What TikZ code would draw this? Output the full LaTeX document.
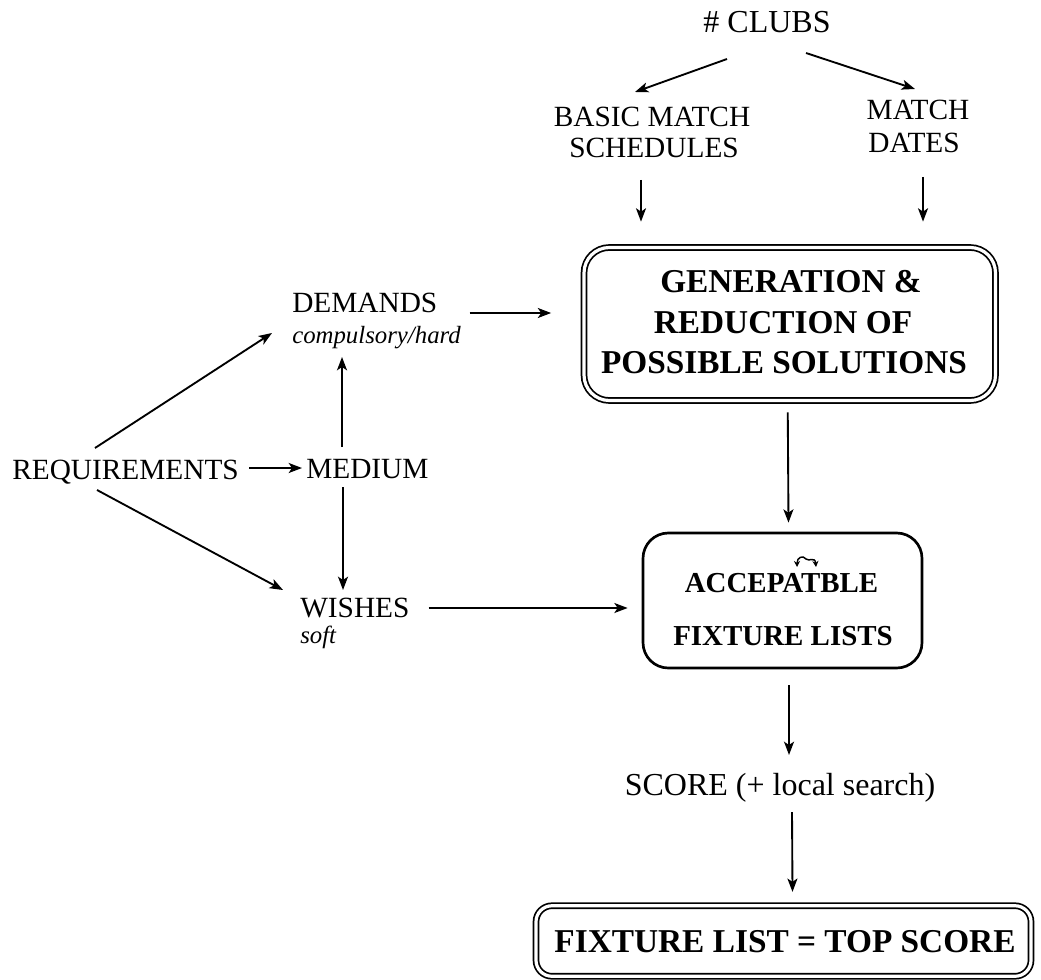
\documentclass[tikz,border=0pt]{standalone}
\usepackage{fontspec}
\setmainfont{Liberation Serif}
\usetikzlibrary{arrows.meta}
\begin{document}
\begin{tikzpicture}[x=0.75pt,y=-0.75pt,
  lbl/.style={font=\fontsize{22}{26}\selectfont, inner sep=0pt, anchor=base},
  lblw/.style={lbl, anchor=base west},
  subtxt/.style={font=\fontsize{18.6}{22}\selectfont\itshape, inner sep=0pt, anchor=base west},
  bigtxt/.style={font=\fontsize{24}{28}\selectfont, inner sep=0pt, anchor=base},
  btxt/.style={font=\fontsize{25}{30}\selectfont\bfseries, inner sep=0pt, anchor=base},
  btxts/.style={font=\fontsize{21.7}{26}\selectfont\bfseries, inner sep=0pt, anchor=base},
  dbox/.style={draw, double, double distance=2.4pt, line width=1.3pt, inner sep=0pt},
  arr/.style={-{Stealth[length=10pt,width=7.5pt,inset=2.5pt]}, line width=1.4pt},
]
\path[use as bounding box] (0,0) rectangle (1041,980);

% boxes
\node[dbox, rounded corners=19pt, minimum width=308.6pt, minimum height=114.75pt] (gen) at (789.75,324) {};
\node[btxt] (gen1) at (791,293) {GENERATION \&};
\node[btxt] (gen2) at (783,333) {REDUCTION OF};
\node[btxt] (gen3) at (784,373) {POSSIBLE SOLUTIONS};

\node[draw, line width=2pt, rounded corners=19pt, minimum width=209.25pt, minimum height=101.25pt, inner sep=0pt] (acc) at (782.5,600.5) {};
\node[btxts] (acc1) at (781.5,592) {ACCEPATBLE};
\node[btxts] (acc2) at (783,645) {FIXTURE LISTS};

\node[dbox, rounded corners=12pt, minimum width=371.25pt, minimum height=52.9pt] (final) at (783.5,941) {};
\node[btxt] (final1) at (785,952) {FIXTURE LIST = TOP SCORE};

% labels
\node[bigtxt] (clubs) at (767,33) {\# CLUBS};
\node[lbl] (basic1) at (652,127) {BASIC MATCH};
\node[lbl] (basic2) at (654,158) {SCHEDULES};
\node[lbl] (match1) at (918,120) {MATCH};
\node[lbl] (match2) at (914,153) {DATES};
\node[lblw] (demands) at (292,313) {DEMANDS};
\node[subtxt] (hard) at (292,343) {compulsory/hard};
\node[lblw] (req) at (12,479) {REQUIREMENTS};
\node[lblw] (medium) at (306,478) {MEDIUM};
\node[lblw] (wishes) at (300,617) {WISHES};
\node[subtxt] (soft) at (300,643) {soft};
\node[bigtxt] (score) at (780,795) {SCORE (+ local search)};

% connectors
\draw[arr] ([shift={(-40,26)}]clubs.base) -- ([shift={(-17,-35)}]basic1.base);
\draw[arr] ([shift={(39,20)}]clubs.base) -- ([shift={(-3,-31)}]match1.base);
\draw[arr] ([shift={(-13,22)}]basic2.base) -- ([shift={(-148.75,-25)}]gen.north);
\draw[arr] ([shift={(9,24)}]match2.base) -- ([shift={(133.25,-25)}]gen.north);
\draw[arr] ([shift={(32,0)}]demands.base east) -- ([shift={(-32,-11)}]gen.west);
\draw[arr] ([shift={(10,-11)}]req.base east) -- ([shift={(-4,-10)}]medium.base west);
\draw[arr] ([shift={(83,-31)}]req.base west) -- ([shift={(-20,20)}]demands.base west);
\draw[arr] ([shift={(36,-31)}]medium.base west) -- ([shift={(50,14)}]hard.base west);
\draw[arr] ([shift={(37,9)}]medium.base west) -- ([shift={(43,-27)}]wishes.base west);
\draw[arr] ([shift={(85,11)}]req.base west) -- ([shift={(-17,-27)}]wishes.base west);
\draw[arr] ([shift={(19,-9)}]wishes.base east) -- ([shift={(-14,7.5)}]acc.west);
\draw[arr] ([shift={(-2,11)}]gen.south) -- ([shift={(6,-9)}]acc.north);
\draw[arr] ([shift={(6.5,16)}]acc.south) -- ([shift={(9,-40)}]score.base);
\draw[arr] ([shift={(12,17)}]score.base) -- ([shift={(9,-13)}]final.north);

% transposition mark above "AT"
\draw[line width=1.1pt, {Stealth[length=4.5pt,width=4.5pt]}-{Stealth[length=4.5pt,width=4.5pt]}]
  (797,567) .. controls (797,557) and (803,555) .. (806,559)
  .. controls (809,562) and (815,556) .. (816,567);
\end{tikzpicture}
\end{document}
